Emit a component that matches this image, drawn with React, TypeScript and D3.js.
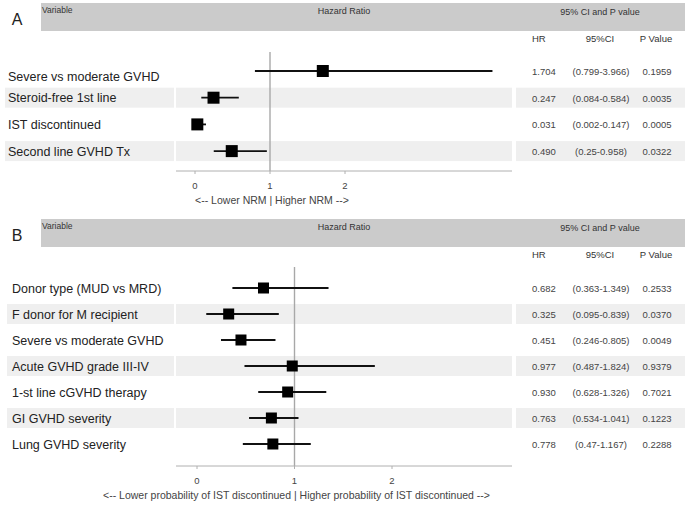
import * as d3 from "d3";

// Panel A — NRM
const labelsA = [
  "Severe vs moderate GVHD",
  "Steroid-free 1st line",
  "IST discontinued",
  "Second line GVHD Tx",
];
const hrA = [1.704, 0.247, 0.031, 0.49];
const lowA = [0.799, 0.084, 0.002, 0.25];
const highA = [3.966, 0.584, 0.147, 0.958];
const pA = [0.1959, 0.0035, 0.0005, 0.0322];

// Panel B — IST discontinuation
const labelsB = [
  "Donor type (MUD vs MRD)",
  "F donor for M recipient",
  "Severe vs moderate GVHD",
  "Acute GVHD grade III-IV",
  "1-st line cGVHD therapy",
  "GI GVHD severity",
  "Lung GVHD severity",
];
const hrB = [0.682, 0.325, 0.451, 0.977, 0.93, 0.763, 0.778];
const lowB = [0.363, 0.095, 0.246, 0.487, 0.628, 0.534, 0.47];
const highB = [1.349, 0.839, 0.805, 1.824, 1.326, 1.041, 1.167];
const pB = [0.2533, 0.037, 0.0049, 0.9379, 0.7021, 0.1223, 0.2288];

const xTicks = [0, 1, 2];

const W = 685;
const H = 508;
const FONT = "'Liberation Sans', Arial, sans-serif";

interface PanelProps {
  letter: string;
  top: number; // header band top
  firstRow: number;
  rowStep: number;
  axisY: number;
  refTop: number;
  xRange: [number, number];
  labelX: number;
  labelCellX: number;
  firstLabelDy: number;
  axisTitle: string;
  labels: string[];
  hr: number[];
  low: number[];
  high: number[];
  p: number[];
  box: number;
}

function Panel(props: PanelProps) {
  const {
    letter, top, firstRow, rowStep, axisY, refTop, xRange, labelX, labelCellX,
    firstLabelDy, axisTitle, labels, hr, low, high, p, box,
  } = props;
  const x = d3.scaleLinear().domain([0, 2]).range(xRange);
  const y = (i: number) => firstRow + i * rowStep;
  const plotL = 176;
  const plotR = 512;
  const tableL = 516;
  const bandH = 20;
  const ink = "#333";
  const grey = "#444";

  return (
    <g>
      <text x={17} y={top + 22} fontSize={16} fontFamily={FONT} fill="#222" textAnchor="middle">
        {letter}
      </text>
      <rect x={41} y={top} width={W - 41} height={28} fill="#cbcbcb" />
      <text x={42} y={top + 10} fontSize={8.5} fontFamily={FONT} fill={ink}>
        Variable
      </text>
      <text x={344} y={top + 11} fontSize={9} fontFamily={FONT} fill={ink} textAnchor="middle">
        Hazard Ratio
      </text>
      <text x={600} y={top + 11.5} fontSize={9} fontFamily={FONT} fill={ink} textAnchor="middle">
        95% CI and P value
      </text>
      <text x={532} y={top + 39} fontSize={9.5} fontFamily={FONT} fill={ink}>
        HR
      </text>
      <text x={600} y={top + 39} fontSize={9.5} fontFamily={FONT} fill={ink} textAnchor="middle">
        95%CI
      </text>
      <text x={656} y={top + 39} fontSize={9.5} fontFamily={FONT} fill={ink} textAnchor="middle">
        P Value
      </text>

      {labels.map((_, i) =>
        i % 2 === 1 ? (
          <g key={"band" + i}>
            <rect x={labelCellX} y={y(i) - bandH / 2} width={174 - labelCellX} height={bandH} fill="#efefef" />
            <rect x={plotL} y={y(i) - bandH / 2} width={plotR - plotL} height={bandH} fill="#efefef" />
            <rect x={tableL} y={y(i) - bandH / 2} width={W - tableL} height={bandH} fill="#efefef" />
          </g>
        ) : null,
      )}

      {/* reference line at HR = 1 */}
      <line x1={x(1)} x2={x(1)} y1={refTop} y2={axisY} stroke="#a8a8a8" strokeWidth={1.4} />

      {labels.map((lab, i) => (
        <g key={lab}>
          <text
            x={labelX}
            y={y(i) + 4.5 + (i === 0 ? firstLabelDy : 0)}
            fontSize={12.5}
            fontFamily={FONT}
            fill="#222"
          >
            {lab}
          </text>
          <line x1={x(low[i])} x2={x(high[i])} y1={y(i)} y2={y(i)} stroke="#111" strokeWidth={1.8} />
          <rect x={x(hr[i]) - box / 2} y={y(i) - box / 2} width={box} height={box} fill="#000" />
          <text x={532} y={y(i) + 4} fontSize={9.5} fontFamily={FONT} fill={grey}>
            {hr[i].toFixed(3)}
          </text>
          <text x={601} y={y(i) + 4} fontSize={9.5} fontFamily={FONT} fill={grey} textAnchor="middle">
            {`(${low[i]}-${high[i]})`}
          </text>
          <text x={657} y={y(i) + 4} fontSize={9.5} fontFamily={FONT} fill={grey} textAnchor="middle">
            {p[i].toFixed(4)}
          </text>
        </g>
      ))}

      {/* x axis */}
      <line x1={plotL} x2={plotR} y1={axisY} y2={axisY} stroke="#b0b0b0" strokeWidth={1} />
      {xTicks.map((t) => (
        <g key={t}>
          <line x1={x(t)} x2={x(t)} y1={axisY} y2={axisY + 3} stroke="#b0b0b0" />
          <text x={x(t)} y={axisY + 18} fontSize={9.5} fontFamily={FONT} fill={grey} textAnchor="middle">
            {t}
          </text>
        </g>
      ))}
      <text x={x(1) + 2} y={axisY + 33} fontSize={10.5} fontFamily={FONT} fill={grey} textAnchor="middle">
        {axisTitle}
      </text>
    </g>
  );
}

export default function App() {
  return (
    <svg
      width={W}
      height={H}
      viewBox={`0 0 ${W} ${H}`}
      style={{ position: "absolute", left: 0, top: 0, background: "#fff" }}
    >
      <rect width={W} height={H} fill="#fff" />
      <Panel
        letter="A"
        top={3}
        firstRow={71}
        rowStep={26.7}
        axisY={171}
        refTop={52}
        xRange={[195, 345]}
        labelX={8}
        labelCellX={5}
        firstLabelDy={5}
        axisTitle="<-- Lower NRM |  Higher NRM -->"
        labels={labelsA}
        hr={hrA}
        low={lowA}
        high={highA}
        p={pA}
        box={12}
      />
      <Panel
        letter="B"
        top={219}
        firstRow={288}
        rowStep={26}
        axisY={466}
        refTop={267}
        xRange={[197, 392]}
        labelX={12}
        labelCellX={7}
        firstLabelDy={0}
        axisTitle="<-- Lower probability of IST discontinued |  Higher probability of IST discontinued -->"
        labels={labelsB}
        hr={hrB}
        low={lowB}
        high={highB}
        p={pB}
        box={11}
      />
    </svg>
  );
}
